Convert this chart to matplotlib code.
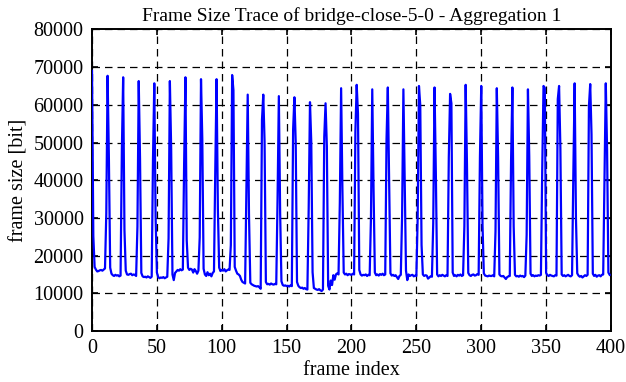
import numpy as np
import matplotlib
matplotlib.use("Agg")
import matplotlib.pyplot as plt

# frame sizes in kbit, one GOP (12 frames) per row, starting at the I-frame
frame_sizes_kbit = [
    69.0, 25.2, 17.0, 16.3, 15.8, 15.9, 16.1, 16.2, 16.0, 16.3, 16.6, 31.2,
    67.7, 45.8, 16.8, 15.2, 14.8, 14.6, 14.9, 14.7, 14.8, 14.5, 14.7, 48.0,
    67.3, 26.8, 16.0, 15.0, 14.9, 15.1, 15.2, 14.8, 15.0, 14.9, 14.6, 27.7,
    66.3, 45.8, 15.4, 14.5, 14.3, 14.4, 14.2, 14.5, 14.3, 14.1, 14.4, 45.8,
    65.7, 30.3, 15.5, 14.3, 14.0, 14.2, 14.1, 14.3, 14.0, 14.2, 14.4, 24.6,
    66.3, 48.4, 15.0, 13.5, 15.4, 15.8, 16.2, 16.0, 16.4, 16.1, 16.3, 44.5,
    67.3, 24.0, 16.8, 16.2, 16.5, 16.3, 15.5, 16.4, 15.9, 15.2, 16.0, 24.8,
    66.8, 50.9, 16.5, 15.0, 14.6, 15.6, 14.8, 15.2, 14.5, 15.4, 15.8, 42.7,
    66.8, 32.4, 16.8, 15.9, 16.2, 16.0, 16.4, 15.8, 16.1, 16.3, 16.2, 22.8,
    67.9, 63.9, 17.0, 16.0, 15.2, 15.0, 14.6, 13.6, 13.0, 12.8, 12.6, 37.8,
    62.7, 30.6, 12.8, 12.4, 12.2, 12.0, 11.9, 11.8, 11.9, 11.6, 11.2, 56.0,
    62.7, 50.2, 13.0, 12.4, 12.5, 12.3, 12.6, 12.4, 12.3, 12.5, 12.4, 34.9,
    62.3, 31.3, 13.2, 12.2, 12.0, 12.1, 11.9, 12.0, 11.8, 12.1, 11.9, 53.5,
    62.0, 50.0, 13.0, 12.0, 11.6, 11.4, 11.5, 11.2, 11.4, 11.1, 11.0, 32.5,
    60.7, 50.0, 15.6, 11.4, 11.2, 11.0, 10.9, 11.1, 10.8, 10.6, 11.0, 51.5,
    60.4, 49.0, 12.0, 11.0, 13.4, 12.2, 14.8, 13.6, 15.0, 15.3, 15.0, 34.0,
    64.4, 37.4, 15.5, 15.0, 15.2, 14.8, 15.1, 15.0, 14.9, 15.2, 15.0, 53.0,
    65.3, 57.7, 16.2, 15.0, 14.7, 14.9, 14.8, 15.0, 14.6, 14.9, 14.8, 30.0,
    64.1, 37.6, 15.5, 14.8, 15.0, 14.7, 15.1, 14.9, 15.2, 14.8, 15.0, 50.9,
    64.6, 40.5, 15.3, 14.7, 14.9, 14.6, 14.8, 14.3, 13.8, 14.6, 14.9, 30.6,
    64.1, 40.5, 16.0, 13.5, 15.0, 14.6, 14.8, 14.9, 14.5, 14.7, 14.6, 30.0,
    65.0, 59.9, 22.8, 15.0, 14.6, 14.8, 14.7, 13.9, 14.2, 14.5, 14.4, 28.6,
    64.6, 42.1, 15.0, 14.5, 14.8, 14.6, 14.9, 14.7, 14.5, 14.8, 14.6, 46.2,
    62.9, 60.4, 15.5, 14.6, 14.8, 14.5, 14.9, 14.7, 15.0, 14.6, 14.8, 27.8,
    65.3, 44.3, 15.4, 14.8, 14.6, 14.9, 15.0, 14.7, 14.8, 15.1, 14.9, 46.2,
    65.0, 28.0, 15.3, 14.7, 14.6, 14.5, 14.7, 14.6, 14.6, 14.8, 14.5, 26.5,
    64.4, 45.9, 15.0, 14.6, 14.5, 14.6, 14.2, 13.8, 14.3, 14.5, 14.6, 45.3,
    64.6, 27.8, 14.9, 14.5, 14.6, 14.4, 14.7, 14.5, 14.6, 14.3, 14.7, 25.5,
    64.1, 46.4, 15.2, 14.6, 14.8, 14.5, 14.7, 14.6, 14.8, 14.7, 14.9, 42.6,
    65.0, 64.5, 15.4, 14.8, 14.6, 14.9, 14.7, 14.6, 14.5, 14.8, 14.7, 61.5,
    65.0, 48.6, 15.0, 14.6, 14.8, 14.5, 14.7, 14.9, 14.6, 14.5, 14.8, 42.0,
    65.7, 30.0, 15.3, 14.7, 14.4, 14.6, 14.2, 14.5, 14.8, 14.6, 14.9, 59.6,
    65.5, 52.2, 15.2, 14.6, 14.9, 14.4, 14.7, 14.8, 14.5, 14.9, 15.0, 40.5,
    65.7, 48.1, 15.5, 14.9,
]

x_ticks = [0, 50, 100, 150, 200, 250, 300, 350, 400]
y_ticks = [0, 10000, 20000, 30000, 40000, 50000, 60000, 70000, 80000]

sizes = np.array(frame_sizes_kbit) * 1000
frames = np.arange(len(sizes))

plt.rcParams["font.family"] = ["Liberation Serif", "DejaVu Serif"]
plt.rcParams["font.size"] = 14.5

fig = plt.figure(figsize=(6.26, 3.82), dpi=100)
ax = fig.add_axes([0.147, 0.1335, 0.829, 0.7895])

ax.plot(frames, sizes, color="#0000ff", linewidth=1.6, zorder=3)

ax.set_xlim(0, 400)
ax.set_ylim(0, 80000)
ax.set_xticks(x_ticks)
ax.set_yticks(y_ticks)
ax.grid(True, color="black", linewidth=0.9, linestyle=(0, (6, 4)), zorder=1)
ax.tick_params(direction="in", length=4.5, width=1.2, top=True, right=True,
               pad=6, labelsize=14.5)
for sp in ax.spines.values():
    sp.set_linewidth(1.4)

ax.set_xlabel("frame index", labelpad=2)
ax.set_ylabel("frame size [bit]", labelpad=4)
ax.set_title("Frame Size Trace of bridge-close-5-0 - Aggregation 1",
             fontsize=14, pad=6)

fig.savefig("out.png", dpi=100)
